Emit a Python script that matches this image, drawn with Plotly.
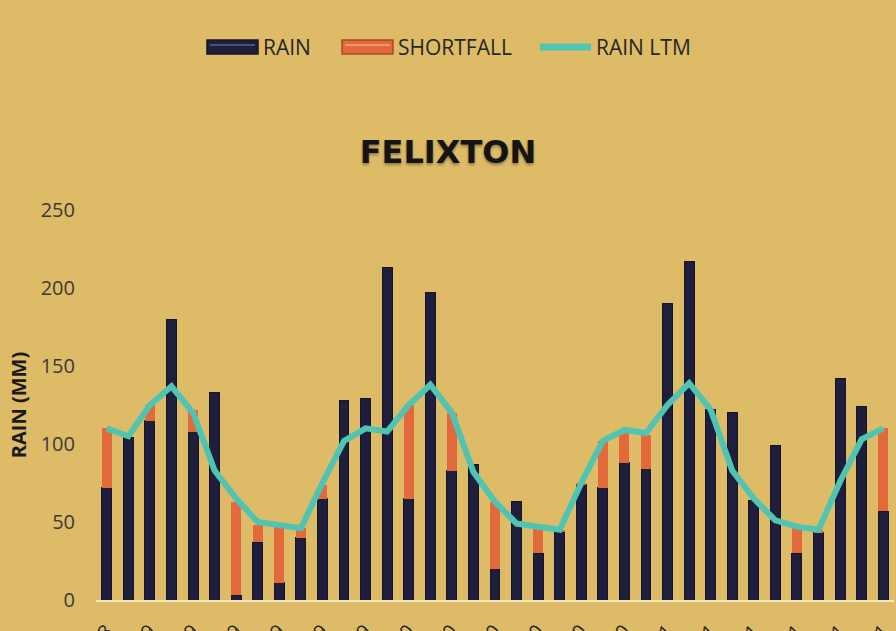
import plotly.graph_objects as go

months = ["Nov-18", "Dec-18", "Jan-19", "Feb-19", "Mar-19", "Apr-19", "May-19", "Jun-19",
          "Jul-19", "Aug-19", "Sep-19", "Oct-19", "Nov-19", "Dec-19", "Jan-20", "Feb-20",
          "Mar-20", "Apr-20", "May-20", "Jun-20", "Jul-20", "Aug-20", "Sep-20", "Oct-20",
          "Nov-20", "Dec-20", "Jan-21", "Feb-21", "Mar-21", "Apr-21", "May-21", "Jun-21",
          "Jul-21", "Aug-21", "Sep-21", "Oct-21", "Nov-21"]
rain = [72, 104, 115, 180, 108, 133, 3, 37, 11, 40, 65, 128,
        129, 213, 65, 197, 83, 87, 20, 63, 30, 44, 74, 72,
        88, 84, 190, 217, 122, 120, 64, 99, 30, 43, 142, 124, 57]
shortfall = [38, 0, 10, 0, 14, 0, 60, 11, 36, 6, 9, 0,
             0, 0, 60, 0, 37, 0, 43, 0, 17, 1, 1, 30,
             21, 22, 0, 0, 0, 0, 0, 0, 16, 2, 0, 0, 53]
rain_ltm = [110, 105, 125, 137, 120, 83, 65, 50, 48, 46, 75, 102,
            110, 108, 125, 138, 120, 82, 63, 49, 47, 45, 75, 102,
            109, 107, 125, 139, 122, 83, 65, 51, 47, 45, 76, 103, 110]
tick_months = months[::2]
y_ticks = [0, 50, 100, 150, 200, 250]

BG = "#DEBC67"
NAVY = "#1F1F3D"
ORANGE = "#E2693A"
TEAL = "#50C4B2"
FONT = "Open Sans"

fig = go.Figure()
fig.add_bar(x=months, y=rain, name="RAIN", showlegend=False,
            marker=dict(color=NAVY, line=dict(color="#15152A", width=1)))
fig.add_bar(x=months, y=shortfall, name="SHORTFALL", showlegend=False,
            marker=dict(color=ORANGE, line=dict(width=0)))
fig.add_scatter(x=months, y=rain_ltm, mode="lines", name="RAIN LTM", showlegend=False,
                line=dict(color=TEAL, width=6))

# plot area geometry in pixels (for the hand-made legend)
L, R, T, B = 96, 2, 210, 31
W, H = 896, 631
pw, ph = W - L - R, H - T - B


def px(x):
    return (x - L) / pw


def py(y):
    return (H - B - y) / ph


shapes = []
annotations = []
leg_y = 47
items = [("RAIN", 207, 258, "bar", NAVY, "#5A628F", "#14142A"),
         ("SHORTFALL", 342, 393, "bar", ORANGE, "#F3A585", "#A9492A"),
         ("RAIN LTM", 540, 591, "line", TEAL, None, None)]
for name, x0, x1, kind, col, hi, edge in items:
    if kind == "bar":
        shapes.append(dict(type="rect", xref="paper", yref="paper",
                           x0=px(x0), x1=px(x1), y0=py(leg_y + 7), y1=py(leg_y - 7),
                           fillcolor=col, line=dict(color=edge, width=1.5)))
        shapes.append(dict(type="line", xref="paper", yref="paper",
                           x0=px(x0 + 3), x1=px(x1 - 3), y0=py(leg_y - 2), y1=py(leg_y - 2),
                           line=dict(color=hi, width=1.5)))
    else:
        shapes.append(dict(type="line", xref="paper", yref="paper",
                           x0=px(x0), x1=px(x1), y0=py(leg_y), y1=py(leg_y),
                           line=dict(color=col, width=7)))
    annotations.append(dict(text=name, xref="paper", yref="paper", x=px(x1 + 3), y=py(leg_y),
                            xanchor="left", yanchor="middle", showarrow=False,
                            font=dict(family=FONT, size=21, color="#262626")))

fig.update_layout(
    width=W, height=H,
    paper_bgcolor=BG, plot_bgcolor=BG,
    margin=dict(l=L, r=R, t=T, b=B, autoexpand=False),
    barmode="stack", bargap=0.54,
    showlegend=False,
    font=dict(family=FONT, color="#333333"),
    title=dict(text="<b>FELIXTON</b>", x=0.5, xref="container", xanchor="center",
               y=1 - 152 / H, yref="container", yanchor="middle",
               font=dict(family="DejaVu Sans", size=32, color="#141414",
                         shadow="0px 2px 3px rgba(0,0,0,0.35)")),
    xaxis=dict(type="category", tickmode="array", tickvals=tick_months, ticktext=tick_months,
               tickangle=-45, tickfont=dict(size=20, color="#262626"), ticklabelstandoff=10,
               showline=True, linecolor="#F2E6C2", linewidth=1.5, automargin=False,
               showgrid=False, ticks="", zeroline=False),
    yaxis=dict(range=[0, 250], tickmode="array", tickvals=y_ticks, automargin=False,
               showgrid=False, zeroline=False, showline=False, ticks="",
               tickfont=dict(size=20, color="#3A3A3A"), ticklabelstandoff=20,
               title=dict(text="<b>RAIN (MM)</b>", standoff=8,
                          font=dict(family=FONT, size=20, color="#1A1A1A"))),
    shapes=shapes, annotations=annotations,
)

fig.write_html("out.html", config={"displayModeBar": False},
               post_script="document.body.style.margin='0';")
